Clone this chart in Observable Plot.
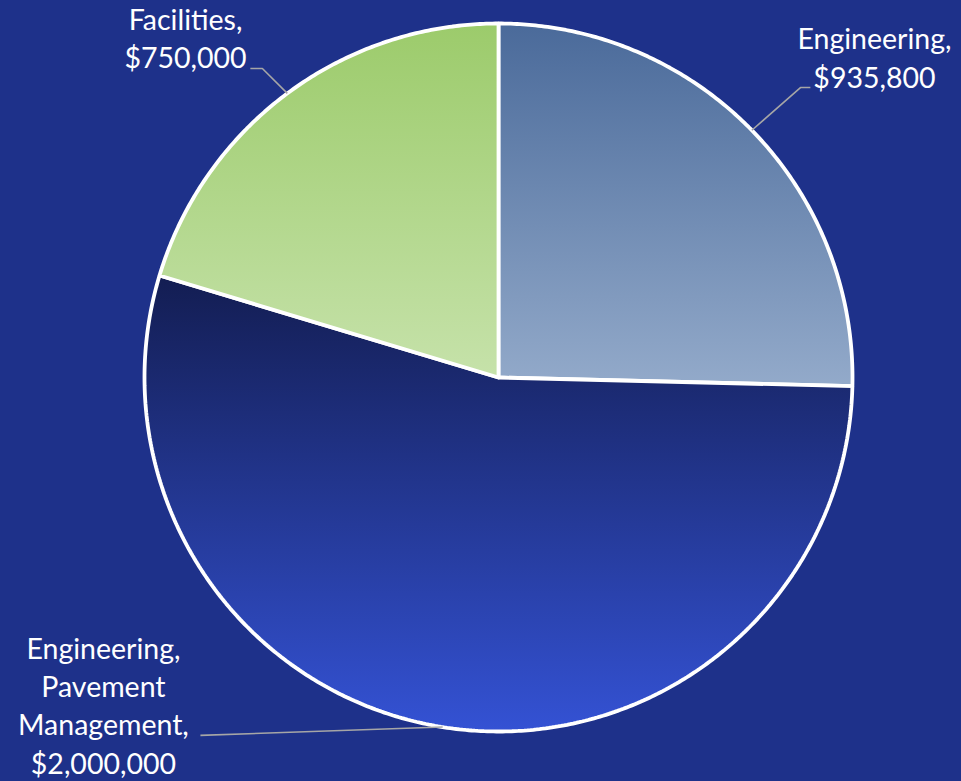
<!DOCTYPE html>
<html>
<head>
<meta charset="utf-8">
<script src="https://cdn.jsdelivr.net/npm/d3@7"></script>
<script src="https://cdn.jsdelivr.net/npm/@observablehq/plot@0.6"></script>
<style>
  html, body { margin: 0; padding: 0; background: #1e318a; }
  #chart svg { display: block; }
</style>
</head>
<body>
<div id="chart"></div>
<script>
// ---- data ----
const categories = ["Engineering", "Engineering, Pavement Management", "Facilities"];
const values = [935800, 2000000, 750000];
const labelLines = [
  ["Engineering,", "$935,800"],
  ["Engineering,", "Pavement", "Management,", "$2,000,000"],
  ["Facilities,", "$750,000"]
];
// gradient colours per slice (top, bottom)
const gradTop = ["#4a6a9a", "#131d52", "#9ccb6b"];
const gradBottom = ["#93aaca", "#3452d4", "#c6e2aa"];

// ---- label layout (unit-circle coordinates, y up) ----
const labelLayout = [
  {elbow: [0.853, 0.819], end: [0.881, 0.819], text: [1.062, 0.819]},
  {elbow: [-0.842, -1.011], end: [-0.842, -1.011], text: [-1.116, -1.119]},
  {elbow: [-0.667, 0.873], end: [-0.701, 0.873], text: [-0.884, 0.873]}
];

const table = categories.map((c, i) => ({category: c, value: values[i], i}));
const arcs = d3.pie().sort(null).value(d => d.value).startAngle(0).endAngle(2 * Math.PI)(table);

// slice outlines
const slices = arcs.map(a => {
  const pts = [{x: 0, y: 0}];
  const n = Math.max(2, Math.ceil((a.endAngle - a.startAngle) / (Math.PI / 360)));
  for (let k = 0; k <= n; k++) {
    const t = a.startAngle + (a.endAngle - a.startAngle) * k / n;
    pts.push({x: Math.sin(t), y: Math.cos(t)});
  }
  pts.push({x: 0, y: 0});
  return pts;
});

// leader lines
const leaders = arcs.flatMap((a, i) => {
  const m = (a.startAngle + a.endAngle) / 2;
  const L = labelLayout[i];
  return [
    {x: Math.sin(m), y: Math.cos(m), k: i},
    {x: L.elbow[0], y: L.elbow[1], k: i},
    {x: L.end[0], y: L.end[1], k: i}
  ];
});

const labels = arcs.map((a, i) => ({
  x: labelLayout[i].text[0],
  y: labelLayout[i].text[1],
  text: labelLines[i].join("\n")
}));

const defsMark = () => {
  const defs = d3.create("svg:defs");
  gradTop.forEach((c, i) => {
    const g = defs.append("linearGradient")
      .attr("id", "sliceGrad" + i)
      .attr("x1", 0).attr("y1", 0).attr("x2", 0).attr("y2", 1);
    g.append("stop").attr("offset", "0%").attr("stop-color", c);
    g.append("stop").attr("offset", "100%").attr("stop-color", gradBottom[i]);
  });
  return defs.node();
};

const chart = Plot.plot({
  width: 961,
  height: 781,
  margin: 0,
  x: {domain: [-1, 1], range: [144, 852], axis: null},
  y: {domain: [-1, 1], range: [731, 23], axis: null},
  style: {background: "#1e318a", fontFamily: "Lato, 'Open Sans', sans-serif"},
  marks: [
    defsMark,
    ...slices.map((pts, i) => Plot.line(pts, {
      x: "x", y: "y",
      fill: `url(#sliceGrad${i})`,
      stroke: "white",
      strokeWidth: 3.8,
      strokeLinejoin: "miter"
    })),
    Plot.line(leaders, {x: "x", y: "y", z: "k", stroke: "#a6a6a6", strokeWidth: 1.6, strokeLinecap: "butt"}),
    Plot.text(labels, {
      x: "x", y: "y", text: "text",
      fill: "white",
      fontSize: 28.5,
      lineHeight: 1.34,
      textAnchor: "middle",
      lineAnchor: "bottom"
    })
  ]
});

document.getElementById("chart").appendChild(chart);
</script>
</body>
</html>
